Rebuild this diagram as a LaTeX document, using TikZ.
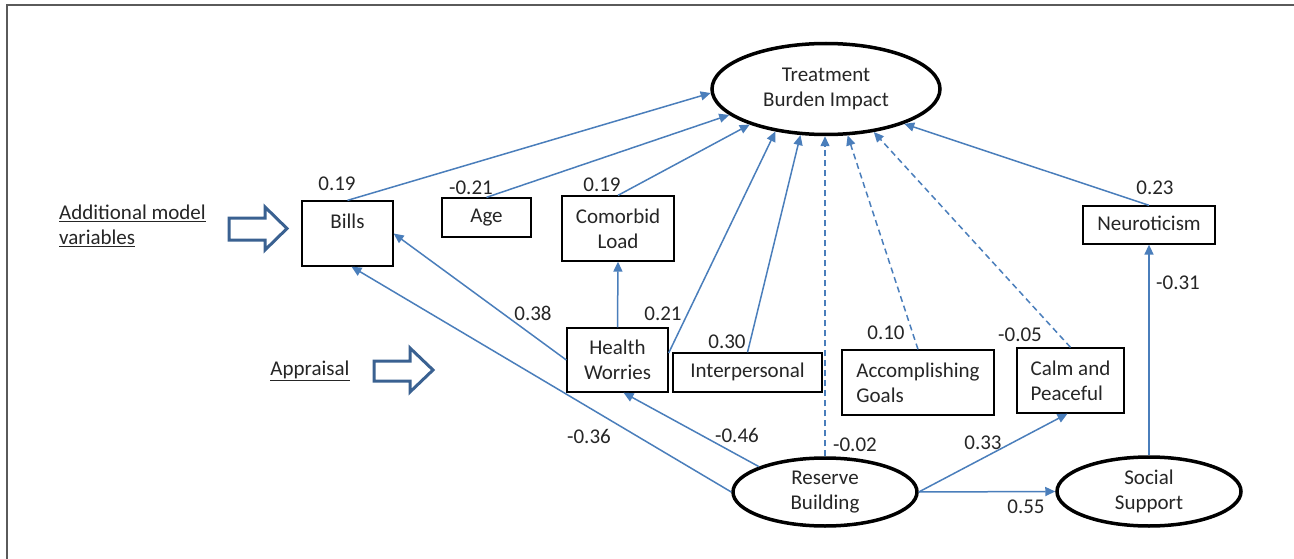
\documentclass[tikz,border=0pt]{standalone}
\usepackage{fontspec}
\setmainfont{Carlito}
\usetikzlibrary{arrows.meta,shapes.geometric,calc}
\definecolor{lblue}{HTML}{4A7EBB}
\definecolor{dblue}{HTML}{3A6191}
\definecolor{framegray}{HTML}{5A5A5A}
\definecolor{txt}{HTML}{262626}
\begin{document}
\begin{tikzpicture}[x=1pt,y=-1pt,
  every node/.style={font=\fontsize{21}{25}\selectfont, text=txt},
  box/.style={draw=black, line width=1.3pt, inner sep=0pt, align=center},
  oval/.style={ellipse, draw=black, line width=3.5pt, inner sep=0pt, align=center},
  link/.style={draw=lblue, line width=1.5pt, -{Triangle[length=10pt,width=9pt]}},
  dlink/.style={link, dash pattern=on 6pt off 4pt},
  coef/.style={inner sep=0pt},
  hollow/.style={draw=dblue, line width=3pt, line join=miter},
]
\useasboundingbox (0,0) rectangle (1294,559);
\fill[white] (0,0) rectangle (1294,559);
\draw[framegray, line width=2pt] (7,559) -- (7,5) -- (1294,5);

% nodes
\node[oval, minimum width=228pt, minimum height=91pt] (tbi) at (826,89) {Treatment\\Burden Impact};
\node[box, minimum width=91pt, minimum height=65pt] (bills) at (347.5,233.5) {Bills\\\mbox{}};
\node[box, minimum width=89pt, minimum height=39pt] (age) at (486.5,217.5) {\strut Age};
\node[box, minimum width=112pt, minimum height=65pt] (com) at (618,228.5) {Comorbid\\Load};
\node[box, minimum width=101pt, minimum height=64pt] (hw) at (617.5,360) {Health\\Worries};
\node[box, minimum width=149pt, minimum height=39pt] (inter) at (747.5,372.5) {\strut Interpersonal};
\node[box, minimum width=152pt, minimum height=65pt, align=left] (ag) at (918,382.5) {Accomplishing\\Goals};
\node[box, minimum width=107pt, minimum height=65pt, align=left] (calm) at (1070.5,380.5) {Calm and\\Peaceful};
\node[box, minimum width=132pt, minimum height=38pt] (neuro) at (1149,225) {\strut Neuroticism};
\node[oval, minimum width=184pt, minimum height=68pt] (rb) at (825,492) {Reserve\\Building};
\node[oval, minimum width=184pt, minimum height=69pt] (ss) at (1149,491.5) {Social\\Support};

% connectors
\draw[link] (bills.north) -- (tbi.182);
\draw[link] (age.north) -- (tbi.195);
\draw[link] (com.north) -- (tbi.205);
\draw[link] ([yshift=7pt]hw.east) -- (tbi.220);
\draw[link] (inter.north) -- (tbi.241);
\draw[dlink] (rb.north) -- (rb.north |- tbi.south);
\draw[dlink] (ag.north) -- (tbi.295);
\draw[dlink] (calm.north) -- (tbi.318);
\draw[link] (neuro.north) -- (tbi.336);
\draw[link] (hw.north) -- (com.south);
\draw[link] (hw.west) -- (bills.east);
\draw[link] (rb.west) -- ([xshift=4pt]bills.south);
\draw[link] (rb.159) -- ([xshift=6pt]hw.south);
\draw[link] (rb.east) -- ([xshift=-3pt]calm.south);
\draw[link] (rb.east) -- (ss.west);
\draw[link] (ss.north) -- (neuro.south);

% coefficients
\node[coef] (c1) at (337,184) {0.19};
\node[coef] (c2) at (471,188) {-0.21};
\node[coef] (c3) at (602,185) {0.19};
\node[coef] (c4) at (663,314) {0.21};
\node[coef] (c5) at (533,313) {0.38};
\node[coef] (c6) at (727,342) {0.30};
\node[coef] (c7) at (589,436) {-0.36};
\node[coef] (c8) at (737,435) {-0.46};
\node[coef] (c9) at (855,445) {-0.02};
\node[coef] (c10) at (886,333) {0.10};
\node[coef] (c11) at (1020,335) {-0.05};
\node[coef] (c12) at (983,443) {0.33};
\node[coef] (c13) at (1026,507) {0.55};
\node[coef] (c14) at (1155,188) {0.23};
\node[coef] (c15) at (1178,283) {-0.31};

% side labels
\node[anchor=west, align=left, inner sep=0pt] (amv) at (59,226) {\underline{Additional model}\\\underline{variables}};
\node[inner sep=0pt] (appr) at (310,371) {\underline{Appraisal}};

% hollow arrows
\draw[hollow] (229,218) -- (265,218) -- (265,207) -- (287,228.5) -- (265,250) -- (265,240) -- (229,240) -- cycle;
\draw[hollow] (374,361) -- (410,361) -- (410,348) -- (433,370) -- (410,392) -- (410,381) -- (374,381) -- cycle;
\end{tikzpicture}
\end{document}
